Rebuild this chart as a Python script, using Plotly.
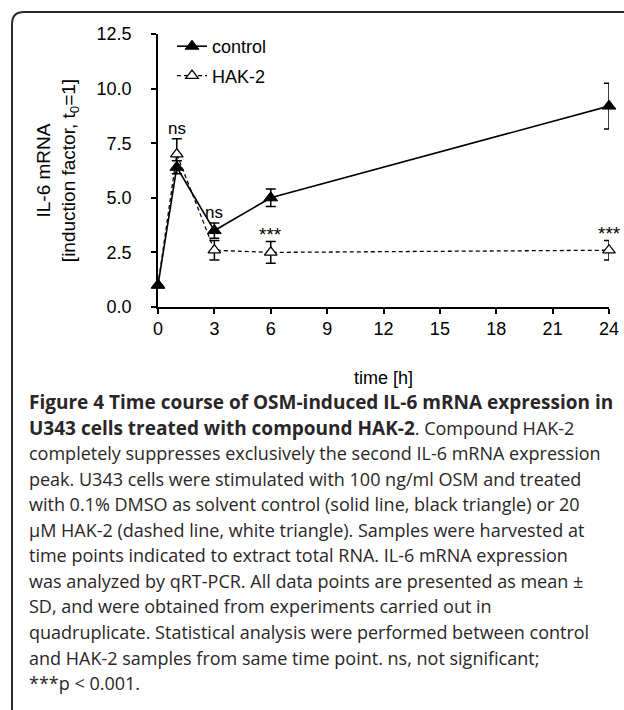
import plotly.graph_objects as go

# ---------------- data ----------------
time_ctrl = [0, 1, 3, 6, 24]
ctrl_mean = [1.0, 6.4, 3.5, 5.0, 9.2]
ctrl_sd = [0.0, 0.3, 0.35, 0.4, 1.05]

time_hak = [0, 1, 3, 6, 24]
hak_mean = [1.0, 7.0, 2.6, 2.5, 2.6]
hak_sd = [0.0, 0.7, 0.45, 0.5, 0.45]

sig_times = [1, 3, 6, 24]
sig_labels = ["ns", "ns", "***", "***"]

x_ticks = [0, 3, 6, 9, 12, 15, 18, 21, 24]
y_ticks = [0.0, 2.5, 5.0, 7.5, 10.0, 12.5]

B19 = "<b><span style='font-size:19px'>"
caption_lines = [
    B19 + "Figure 4 Time course of OSM-induced IL-6 mRNA expression in</span></b>",
    B19 + "U343 cells treated with compound HAK-2</span></b>. Compound HAK-2",
    "completely suppresses exclusively the second IL-6 mRNA expression",
    "peak. U343 cells were stimulated with 100 ng/ml OSM and treated",
    "with 0.1% DMSO as solvent control (solid line, black triangle) or 20",
    "µM HAK-2 (dashed line, white triangle). Samples were harvested at",
    "time points indicated to extract total RNA. IL-6 mRNA expression",
    "was analyzed by qRT-PCR. All data points are presented as mean ±",
    "SD, and were obtained from experiments carried out in",
    "quadruplicate. Statistical analysis were performed between control",
    "and HAK-2 samples from same time point. ns, not significant;",
    "***p < 0.001.",
]

# ---------------- layout geometry (pixels) ----------------
W, H = 624, 710
L, R, T, B = 158, 15, 34, 403
PW, PH = W - L - R, H - T - B


def px(x):
    return (x - L) / PW


def py(y):
    return (H - B - y) / PH


CHART_FONT = "Liberation Sans, Arial, sans-serif"

fig = go.Figure()

fig.add_trace(go.Scatter(
    x=time_hak, y=hak_mean, name="HAK-2", mode="lines+markers",
    line=dict(color="black", width=1.3, dash="4px,3px"),
    marker=dict(symbol="triangle-up", size=11, color="white",
                line=dict(color="black", width=1.3)),
    error_y=dict(type="data", array=hak_sd, visible=True,
                 color="black", thickness=1.5, width=5),
    cliponaxis=False, legendgroup="b", legendrank=2,
))
fig.add_trace(go.Scatter(
    x=time_ctrl, y=ctrl_mean, name="control", mode="lines+markers",
    line=dict(color="black", width=1.6),
    marker=dict(symbol="triangle-up", size=12, color="black",
                line=dict(color="black", width=1)),
    error_y=dict(type="data", array=ctrl_sd, visible=True,
                 color="black", thickness=1.5, width=5),
    cliponaxis=False, legendgroup="a", legendrank=1,
))

# significance labels
annotations = []
for t, lab in zip(sig_times, sig_labels):
    i_c = time_ctrl.index(t)
    i_h = time_hak.index(t)
    top_h = hak_mean[i_h] + hak_sd[i_h]
    top_c = ctrl_mean[i_c] + ctrl_sd[i_c]
    base = max(top_h, top_c) if lab == "ns" else top_h
    annotations.append(dict(
        x=t, y=base, xref="x", yref="y", text=lab, showarrow=False,
        yanchor="bottom", yshift=-1 if lab == "ns" else -6,
        font=dict(family=CHART_FONT, size=17 if lab == "ns" else 19,
                  color="black"),
    ))

# caption
cap_y0 = 402
cap_dy = 25.55
for k, line in enumerate(caption_lines):
    annotations.append(dict(
        x=px(27), y=py(cap_y0 + k * cap_dy), xref="paper", yref="paper",
        xanchor="left", yanchor="middle", showarrow=False, align="left",
        text=line,
        font=dict(family="Open Sans, Noto Sans, sans-serif", size=18,
                  color="#2a2627"),
    ))

# rounded border (frame of the figure panel)
x0, y0, x1, y1, r = 12, 12, 660, 716, 12
path = (f"M {px(x0)},{py(y1)} L {px(x0)},{py(y0 + r)} "
        f"Q {px(x0)},{py(y0)} {px(x0 + r)},{py(y0)} "
        f"L {px(x1)},{py(y0)}")
shapes = [dict(type="path", path=path, xref="paper", yref="paper",
               line=dict(color="#2b2b2b", width=2))]

fig.update_layout(
    width=W, height=H,
    margin=dict(l=L, r=R, t=T, b=B, autoexpand=False),
    paper_bgcolor="white", plot_bgcolor="white",
    showlegend=True,
    legend=dict(x=px(172), y=py(28), xanchor="left", yanchor="top",
                bgcolor="rgba(0,0,0,0)", tracegroupgap=3,
                font=dict(family=CHART_FONT, size=18, color="black"),
                itemwidth=30),
    annotations=annotations,
    shapes=shapes,
    xaxis=dict(
        range=[0, 24], tickvals=x_ticks, ticks="outside", ticklen=5,
        tickwidth=1.5, tickcolor="black", showline=True, linecolor="black",
        linewidth=1.5, showgrid=False, zeroline=False,
        tickfont=dict(family=CHART_FONT, size=18, color="black"),
        title=dict(text="time [h]", standoff=33,
                   font=dict(family=CHART_FONT, size=18, color="black")),
    ),
    yaxis=dict(
        range=[0, 12.5], tickvals=y_ticks, tickformat=".1f", ticks="outside",
        ticklen=5, tickwidth=1.5, tickcolor="black", showline=True,
        linecolor="black", linewidth=1.5, showgrid=False, zeroline=False,
        ticklabelstandoff=16,
        tickfont=dict(family=CHART_FONT, size=18, color="black"),
        title=dict(text="IL-6 mRNA<br>[induction factor, t<sub>0</sub>=1]",
                   standoff=16,
                   font=dict(family=CHART_FONT, size=19, color="black")),
    ),
)

fig.write_html(
    "out.html",
    config={"displayModeBar": False},
    post_script="document.body.style.margin='0px';"
                "document.body.style.overflow='hidden';",
)
